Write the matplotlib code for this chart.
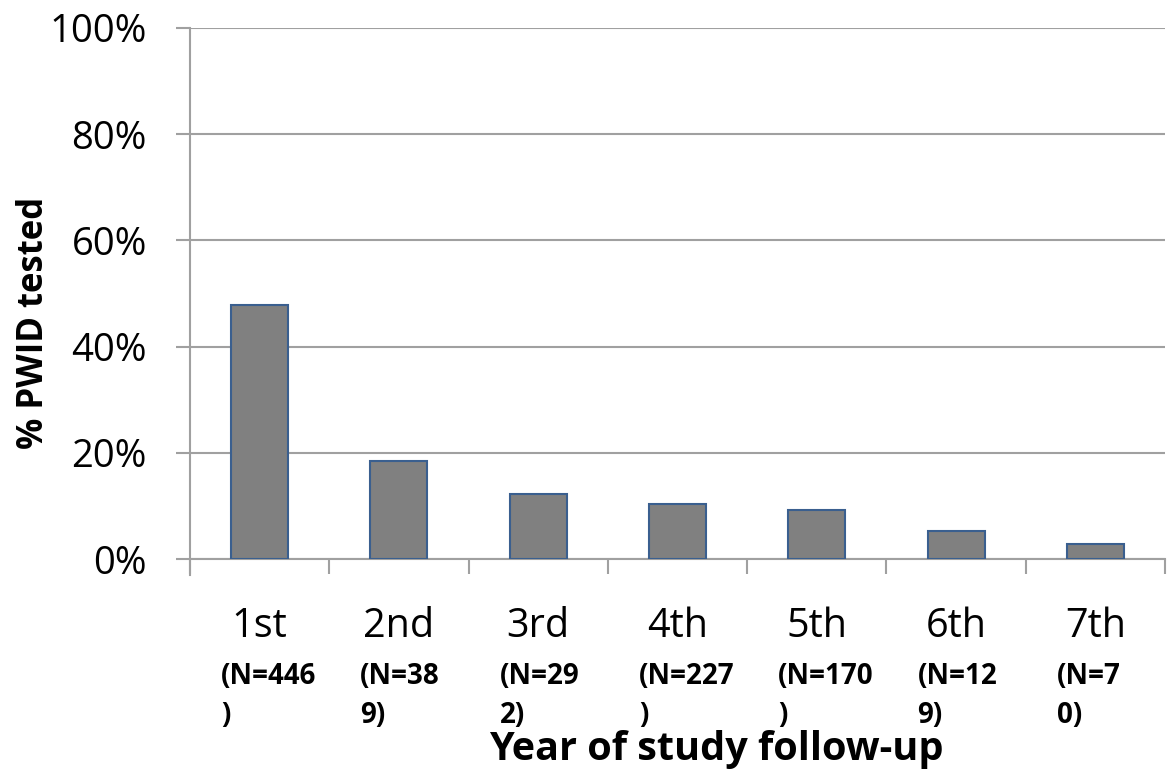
import matplotlib
matplotlib.use("Agg")
import matplotlib.pyplot as plt
import matplotlib.transforms as mtransforms
import numpy as np

# Data
years = ["1st", "2nd", "3rd", "4th", "5th", "6th", "7th"]
n_labels = ["(N=446\n)", "(N=38\n9)", "(N=29\n2)", "(N=227\n)",
            "(N=170\n)", "(N=12\n9)", "(N=7\n0)"]
pct_tested = [47.8, 18.5, 12.2, 10.4, 9.2, 5.3, 2.8]

plt.rcParams['font.family'] = ['Open Sans', 'DejaVu Sans']

W, H = 1169, 775
fig = plt.figure(figsize=(W / 100, H / 100), dpi=100)
ax = fig.add_axes([190 / W, 1 - 559 / H, 975 / W, 531 / H])

x = np.arange(len(years))
ax.bar(x, pct_tested, width=0.41, color='#808080', edgecolor='#3A5F8F',
       linewidth=1.5, zorder=3)

# Axes styling
ax.set_xlim(-0.5, len(years) - 0.5)
ax.set_ylim(0, 100)
ax.set_yticks(np.arange(0, 101, 20))
ax.set_yticklabels([f"{v}%" for v in range(0, 101, 20)], fontsize=27.5)
ax.yaxis.grid(True, color='#A0A0A0', linewidth=1.5, zorder=0)
for s in ['top', 'right']:
    ax.spines[s].set_visible(False)
for s in ['left', 'bottom']:
    ax.spines[s].set_color('#A0A0A0')
    ax.spines[s].set_linewidth(1.5)
ax.spines['left'].set_bounds(-3, 100)
ax.tick_params(axis='y', length=10, width=1.5, color='#A0A0A0', pad=21)

# x ticks at category boundaries, labels drawn as text
ax.set_xticks(np.arange(-0.5, len(years), 1.0))
ax.set_xticklabels([])
ax.tick_params(axis='x', length=11, width=1.5, color='#A0A0A0')

trans = mtransforms.blended_transform_factory(ax.transData, fig.transFigure)
for i, (yr, nl) in enumerate(zip(years, n_labels)):
    ax.text(i, 1 - 637 / H, yr, transform=trans, ha='center', va='baseline',
            fontsize=28.5, clip_on=False)
    first, second = nl.split("\n")
    xl = i - 0.5 + 31 / 139.3
    ax.text(xl, 1 - 684 / H, first, transform=trans, ha='left',
            va='baseline', fontsize=20, fontweight='bold', clip_on=False)
    ax.text(xl, 1 - 723 / H, second, transform=trans, ha='left',
            va='baseline', fontsize=20, fontweight='bold', clip_on=False)

fig.text(716 / W, 1 - 760 / H, "Year of study follow-up", ha='center',
         va='baseline', fontsize=28.5, fontweight='bold')
fig.text(34 / W, 1 - 323 / H, "% PWID tested", ha='center',
         va='center', rotation=90, fontsize=25, fontweight='bold')

fig.savefig("out.png", dpi=100)
